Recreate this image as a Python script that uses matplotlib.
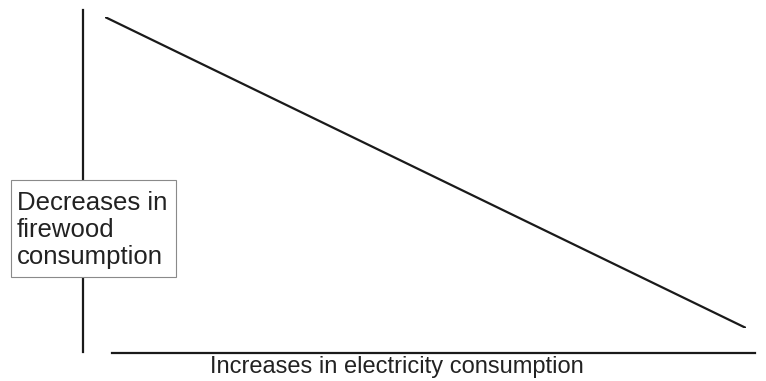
import matplotlib
matplotlib.use("Agg")
import matplotlib.pyplot as plt
from matplotlib.lines import Line2D
from matplotlib.patches import Rectangle

# schematic relationship: more electricity -> less firewood
electricity = [0, 1]
firewood = [1, 0]
x_label = "Increases in electricity consumption"
y_label = "Decreases in\nfirewood\nconsumption"

W, H = 766, 381
plt.rcParams['font.family'] = ['Liberation Sans', 'DejaVu Sans']

fig = plt.figure(figsize=(W / 100, H / 100), dpi=100)

def fx(px):
    return px / W

def fy(py):
    return 1 - py / H

ax = fig.add_axes([fx(105), fy(328), fx(746) - fx(105), fy(17) - fy(328)])
ax.plot(electricity, firewood, color='#1a1a1a', lw=1.6, solid_capstyle='round')
ax.set_xlim(0, 1)
ax.set_ylim(0, 1)
ax.axis('off')

# axis lines (they don't meet at the corner)
fig.add_artist(Line2D([fx(83), fx(83)], [fy(10), fy(352)], color='#1a1a1a', lw=1.6))
fig.add_artist(Line2D([fx(112), fx(755)], [fy(353), fy(353)], color='#1a1a1a', lw=1.6))

# y label box
fig.add_artist(Rectangle((fx(11), fy(277)), fx(176) - fx(11), fy(180) - fy(277),
                         transform=fig.transFigure, facecolor='white',
                         edgecolor='#8a8a8a', lw=0.8, zorder=5))
fig.text(fx(17), fy(264), y_label, ha='left', va='baseline', fontsize=18.5,
         linespacing=1.17, color='#222222', zorder=6)

fig.text(fx(397), fy(367), x_label, ha='center', va='center', fontsize=17,
         color='#222222')

fig.savefig("out.png", dpi=100)
